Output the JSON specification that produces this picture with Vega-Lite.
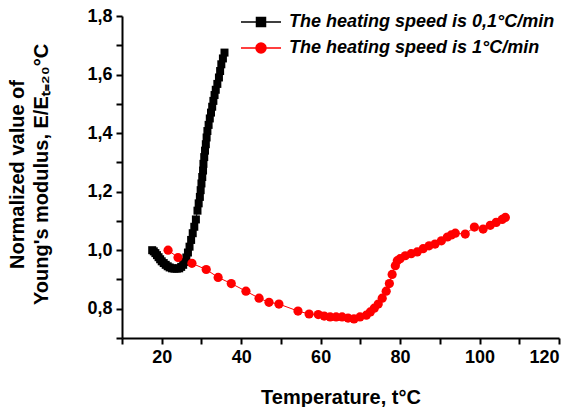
{
  "$schema": "https://vega.github.io/schema/vega-lite/v6.json",
  "width": 437,
  "height": 322,
  "autosize": "none",
  "padding": {"left": 122, "top": 16, "right": 17, "bottom": 69},
  "background": "white",
  "config": {
    "view": {"stroke": null},
    "font": "Liberation Sans",
    "axis": {
      "grid": false,
      "domainColor": "black",
      "domainWidth": 2,
      "tickColor": "black",
      "tickWidth": 2,
      "tickSize": 6,
      "labelFont": "Liberation Sans",
      "labelFontWeight": "bold",
      "labelFontSize": 18,
      "labelColor": "black",
      "labelPadding": 4,
      "titleFont": "Liberation Sans",
      "titleFontWeight": "bold",
      "titleFontSize": 20,
      "titleColor": "black"
    }
  },
  "datasets": {
    "series": [
      {"s": "The heating speed is 0,1°C/min", "T": 17.6, "E": 1.000},
      {"s": "The heating speed is 0,1°C/min", "T": 18.0, "E": 0.996},
      {"s": "The heating speed is 0,1°C/min", "T": 18.4, "E": 0.990},
      {"s": "The heating speed is 0,1°C/min", "T": 18.8, "E": 0.983},
      {"s": "The heating speed is 0,1°C/min", "T": 19.2, "E": 0.976},
      {"s": "The heating speed is 0,1°C/min", "T": 19.6, "E": 0.969},
      {"s": "The heating speed is 0,1°C/min", "T": 20.0, "E": 0.962},
      {"s": "The heating speed is 0,1°C/min", "T": 20.5, "E": 0.956},
      {"s": "The heating speed is 0,1°C/min", "T": 21.0, "E": 0.950},
      {"s": "The heating speed is 0,1°C/min", "T": 21.5, "E": 0.945},
      {"s": "The heating speed is 0,1°C/min", "T": 22.0, "E": 0.941},
      {"s": "The heating speed is 0,1°C/min", "T": 22.6, "E": 0.938},
      {"s": "The heating speed is 0,1°C/min", "T": 23.2, "E": 0.937},
      {"s": "The heating speed is 0,1°C/min", "T": 23.8, "E": 0.937},
      {"s": "The heating speed is 0,1°C/min", "T": 24.4, "E": 0.938},
      {"s": "The heating speed is 0,1°C/min", "T": 24.9, "E": 0.943},
      {"s": "The heating speed is 0,1°C/min", "T": 25.4, "E": 0.950},
      {"s": "The heating speed is 0,1°C/min", "T": 25.8, "E": 0.960},
      {"s": "The heating speed is 0,1°C/min", "T": 26.2, "E": 0.975},
      {"s": "The heating speed is 0,1°C/min", "T": 26.6, "E": 0.992},
      {"s": "The heating speed is 0,1°C/min", "T": 27.0, "E": 1.012},
      {"s": "The heating speed is 0,1°C/min", "T": 27.4, "E": 1.035},
      {"s": "The heating speed is 0,1°C/min", "T": 27.8, "E": 1.058},
      {"s": "The heating speed is 0,1°C/min", "T": 28.2, "E": 1.080},
      {"s": "The heating speed is 0,1°C/min", "T": 28.6, "E": 1.105},
      {"s": "The heating speed is 0,1°C/min", "T": 29.0, "E": 1.135},
      {"s": "The heating speed is 0,1°C/min", "T": 29.3, "E": 1.160},
      {"s": "The heating speed is 0,1°C/min", "T": 29.6, "E": 1.182},
      {"s": "The heating speed is 0,1°C/min", "T": 29.8, "E": 1.205},
      {"s": "The heating speed is 0,1°C/min", "T": 30.0, "E": 1.228},
      {"s": "The heating speed is 0,1°C/min", "T": 30.2, "E": 1.250},
      {"s": "The heating speed is 0,1°C/min", "T": 30.4, "E": 1.272},
      {"s": "The heating speed is 0,1°C/min", "T": 30.5, "E": 1.295},
      {"s": "The heating speed is 0,1°C/min", "T": 30.7, "E": 1.318},
      {"s": "The heating speed is 0,1°C/min", "T": 30.9, "E": 1.340},
      {"s": "The heating speed is 0,1°C/min", "T": 31.1, "E": 1.362},
      {"s": "The heating speed is 0,1°C/min", "T": 31.3, "E": 1.385},
      {"s": "The heating speed is 0,1°C/min", "T": 31.5, "E": 1.407},
      {"s": "The heating speed is 0,1°C/min", "T": 31.8, "E": 1.428},
      {"s": "The heating speed is 0,1°C/min", "T": 32.1, "E": 1.450},
      {"s": "The heating speed is 0,1°C/min", "T": 32.4, "E": 1.470},
      {"s": "The heating speed is 0,1°C/min", "T": 32.7, "E": 1.490},
      {"s": "The heating speed is 0,1°C/min", "T": 33.0, "E": 1.510},
      {"s": "The heating speed is 0,1°C/min", "T": 33.3, "E": 1.530},
      {"s": "The heating speed is 0,1°C/min", "T": 33.6, "E": 1.548},
      {"s": "The heating speed is 0,1°C/min", "T": 34.0, "E": 1.568},
      {"s": "The heating speed is 0,1°C/min", "T": 34.4, "E": 1.590},
      {"s": "The heating speed is 0,1°C/min", "T": 34.7, "E": 1.612},
      {"s": "The heating speed is 0,1°C/min", "T": 35.0, "E": 1.635},
      {"s": "The heating speed is 0,1°C/min", "T": 35.4, "E": 1.655},
      {"s": "The heating speed is 0,1°C/min", "T": 35.8, "E": 1.675},
      {"s": "The heating speed is 1°C/min", "T": 21.6, "E": 1.000},
      {"s": "The heating speed is 1°C/min", "T": 24.1, "E": 0.975},
      {"s": "The heating speed is 1°C/min", "T": 27.6, "E": 0.955},
      {"s": "The heating speed is 1°C/min", "T": 31.2, "E": 0.934},
      {"s": "The heating speed is 1°C/min", "T": 34.2, "E": 0.907},
      {"s": "The heating speed is 1°C/min", "T": 37.5, "E": 0.886},
      {"s": "The heating speed is 1°C/min", "T": 41.2, "E": 0.860},
      {"s": "The heating speed is 1°C/min", "T": 44.5, "E": 0.836},
      {"s": "The heating speed is 1°C/min", "T": 47.0, "E": 0.822},
      {"s": "The heating speed is 1°C/min", "T": 49.5, "E": 0.816},
      {"s": "The heating speed is 1°C/min", "T": 54.3, "E": 0.792},
      {"s": "The heating speed is 1°C/min", "T": 57.1, "E": 0.782},
      {"s": "The heating speed is 1°C/min", "T": 59.4, "E": 0.780},
      {"s": "The heating speed is 1°C/min", "T": 60.9, "E": 0.775},
      {"s": "The heating speed is 1°C/min", "T": 62.4, "E": 0.772},
      {"s": "The heating speed is 1°C/min", "T": 63.9, "E": 0.772},
      {"s": "The heating speed is 1°C/min", "T": 65.4, "E": 0.772},
      {"s": "The heating speed is 1°C/min", "T": 66.9, "E": 0.768},
      {"s": "The heating speed is 1°C/min", "T": 68.4, "E": 0.765},
      {"s": "The heating speed is 1°C/min", "T": 69.9, "E": 0.772},
      {"s": "The heating speed is 1°C/min", "T": 71.5, "E": 0.778},
      {"s": "The heating speed is 1°C/min", "T": 72.5, "E": 0.789},
      {"s": "The heating speed is 1°C/min", "T": 73.5, "E": 0.802},
      {"s": "The heating speed is 1°C/min", "T": 74.5, "E": 0.816},
      {"s": "The heating speed is 1°C/min", "T": 75.5, "E": 0.836},
      {"s": "The heating speed is 1°C/min", "T": 76.5, "E": 0.860},
      {"s": "The heating speed is 1°C/min", "T": 77.3, "E": 0.886},
      {"s": "The heating speed is 1°C/min", "T": 78.0, "E": 0.917},
      {"s": "The heating speed is 1°C/min", "T": 78.8, "E": 0.947},
      {"s": "The heating speed is 1°C/min", "T": 79.3, "E": 0.964},
      {"s": "The heating speed is 1°C/min", "T": 80.0, "E": 0.971},
      {"s": "The heating speed is 1°C/min", "T": 81.3, "E": 0.981},
      {"s": "The heating speed is 1°C/min", "T": 82.8, "E": 0.988},
      {"s": "The heating speed is 1°C/min", "T": 84.3, "E": 0.994},
      {"s": "The heating speed is 1°C/min", "T": 85.8, "E": 1.005},
      {"s": "The heating speed is 1°C/min", "T": 87.3, "E": 1.015},
      {"s": "The heating speed is 1°C/min", "T": 88.8, "E": 1.021},
      {"s": "The heating speed is 1°C/min", "T": 90.4, "E": 1.032},
      {"s": "The heating speed is 1°C/min", "T": 91.9, "E": 1.045},
      {"s": "The heating speed is 1°C/min", "T": 92.9, "E": 1.052},
      {"s": "The heating speed is 1°C/min", "T": 93.9, "E": 1.058},
      {"s": "The heating speed is 1°C/min", "T": 96.4, "E": 1.055},
      {"s": "The heating speed is 1°C/min", "T": 98.7, "E": 1.079},
      {"s": "The heating speed is 1°C/min", "T": 100.9, "E": 1.072},
      {"s": "The heating speed is 1°C/min", "T": 102.7, "E": 1.085},
      {"s": "The heating speed is 1°C/min", "T": 104.2, "E": 1.095},
      {"s": "The heating speed is 1°C/min", "T": 105.7, "E": 1.105},
      {"s": "The heating speed is 1°C/min", "T": 106.5, "E": 1.112}
    ]
  },
  "data": {"name": "series"},
  "encoding": {
    "x": {
      "field": "T",
      "type": "quantitative",
      "scale": {"domain": [10, 120], "nice": false, "zero": false},
      "axis": {
        "title": "Temperature, t°C",
        "values": [10, 20, 30, 40, 50, 60, 70, 80, 90, 100, 110, 120],
        "labelExpr": "datum.value % 20 === 0 ? datum.value : ''",
        "titlePadding": 21
      }
    },
    "y": {
      "field": "E",
      "type": "quantitative",
      "scale": {"domain": [0.7, 1.8], "nice": false, "zero": false},
      "axis": {
        "title": ["Normalized value of", "Young's modulus, E/Eₜ₌₂₀°C"],
        "values": [0.7, 0.8, 0.9, 1.0, 1.1, 1.2, 1.3, 1.4, 1.5, 1.6, 1.7, 1.8],
        "labelExpr": "round(datum.value * 10) % 2 === 0 ? replace(format(datum.value, '.1f'), '.', ',') : ''",
        "titleX": -115,
        "titleY": 158,
        "titleAngle": -90,
        "titleAlign": "center",
        "titleBaseline": "top",
        "titleLineHeight": 24
      }
    }
  },
  "layer": [
    {
      "mark": {"type": "line", "strokeWidth": 1},
      "encoding": {
        "color": {
          "field": "s",
          "type": "nominal",
          "scale": {
            "domain": ["The heating speed is 0,1°C/min", "The heating speed is 1°C/min"],
            "range": ["#000000", "#ff0000"]
          },
          "legend": {
            "title": null,
            "orient": "none",
            "legendX": 128,
            "legendY": -5,
            "padding": 0,
            "symbolSize": 400,
            "symbolOffset": 0,
            "symbolStrokeWidth": 1.5,
            "labelOffset": 17,
            "rowPadding": 6,
            "labelFont": "Liberation Sans",
            "labelFontSize": 18,
            "labelFontWeight": "bold",
            "labelFontStyle": "italic",
            "labelColor": "black",
            "labelLimit": 400,
            "symbolOpacity": 1,
            "encode": {
              "symbols": {
                "update": {
                  "shape": {"signal": "datum.value === 'The heating speed is 1°C/min' ? 'M-2,0H2M-0.5,0A0.5,0.5 0 1,1 0.5,0A0.5,0.5 0 1,1 -0.5,0Z' : 'M-2,0H2M-0.45,-0.45H0.45V0.45H-0.45Z'"},
                  "fill": {"signal": "datum.value === 'The heating speed is 1°C/min' ? '#ff0000' : '#000000'"},
                  "stroke": {"signal": "datum.value === 'The heating speed is 1°C/min' ? '#ff0000' : '#000000'"},
                  "strokeWidth": {"value": 1.5},
                  "opacity": {"value": 1}
                }
              }
            }
          }
        }
      }
    },
    {
      "transform": [{"filter": "datum.s === 'The heating speed is 0,1°C/min'"}],
      "mark": {"type": "point", "shape": "square", "size": 64, "filled": true, "opacity": 1, "color": "#000000"}
    },
    {
      "transform": [{"filter": "datum.s === 'The heating speed is 1°C/min'"}],
      "mark": {"type": "point", "shape": "circle", "size": 85, "filled": true, "opacity": 1, "color": "#ff0000"}
    }
  ]
}
